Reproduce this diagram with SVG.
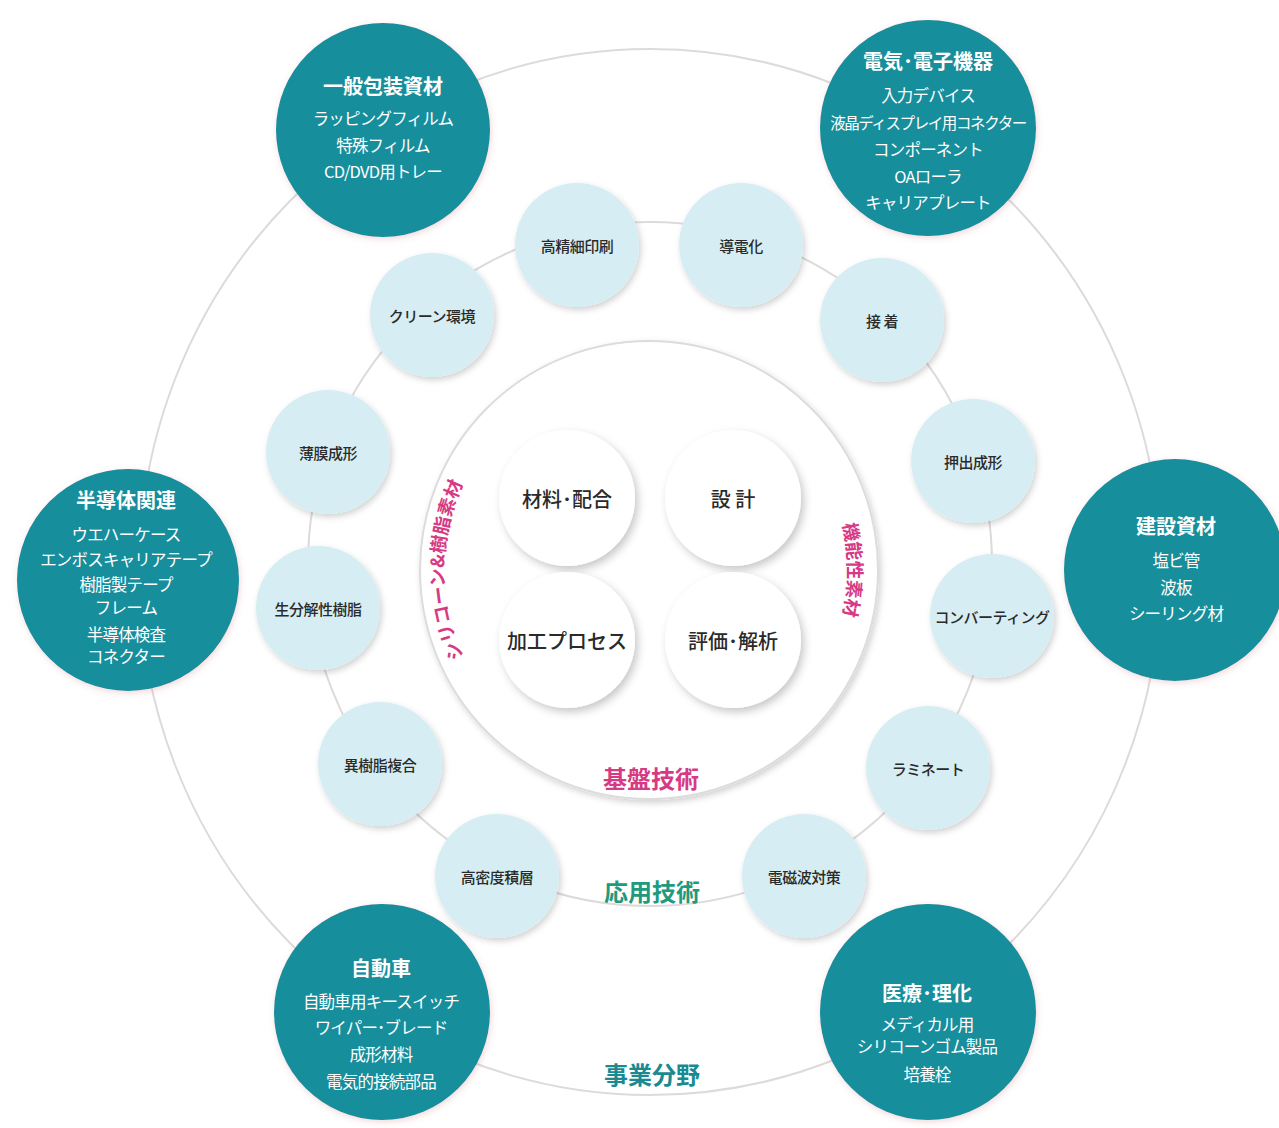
<svg xmlns="http://www.w3.org/2000/svg" width="1279" height="1128" viewBox="0 0 1279 1128">
<defs>
<style>
text{font-family:"Noto Sans CJK JP","Noto Sans",sans-serif;text-anchor:middle;dominant-baseline:central}
.ring{fill:none;stroke:#dedada;stroke-width:2}
.dark{fill:#128e9c}
.light{fill:#d6eef3}
.white{fill:#ffffff}
.dt{fill:#ffffff;font-weight:700;font-size:20px}
.di{fill:#ffffff;font-size:16.5px;letter-spacing:-0.8px}
.tight{font-size:15.5px;letter-spacing:-1.4px}
.lt{fill:#2a2a2a;font-size:15px;font-weight:500;letter-spacing:-0.5px}
.wt{fill:#2a2a2a;font-size:20px;font-weight:500}
.pink{fill:#d63a84;font-weight:700}
</style>
<filter id="sh" x="-20%" y="-20%" width="140%" height="140%"><feDropShadow dx="2" dy="3" stdDeviation="3" flood-color="#000" flood-opacity="0.18"/></filter>
<filter id="shd" x="-20%" y="-20%" width="140%" height="140%"><feDropShadow dx="1" dy="2" stdDeviation="3" flood-color="#c06070" flood-opacity="0.25"/></filter>
<filter id="shw" x="-20%" y="-20%" width="140%" height="140%"><feDropShadow dx="3" dy="4" stdDeviation="4" flood-color="#000" flood-opacity="0.22"/></filter>
<path id="arcL" d="M 471.5 672.5 A 205 205 0 0 1 471.5 467.5"/>
<path id="arcR" d="M 821.3 470.5 A 199 199 0 0 1 821.3 669.5"/>
</defs>
<rect width="1279" height="1128" fill="#ffffff"/>
<g id="connectors">
<ellipse class="ring" cx="650" cy="572" rx="511" ry="523"/>
<ellipse class="ring" cx="650" cy="564" rx="342" ry="342"/>
<circle cx="649" cy="570" r="229" fill="#ffffff" stroke="#dcdcdc" stroke-width="2" filter="url(#sh)"/>
</g>
<g id="label-kiban"><text x="651" y="777" class="pink" font-size="24">基盤技術</text></g>
<g id="label-ouyou"><text x="652" y="890" font-size="24" font-weight="700" fill="#1f9a7c">応用技術</text></g>
<g id="label-jigyou"><text x="652" y="1073" font-size="24" font-weight="700" fill="#1a8a92">事業分野</text></g>
<g id="label-silicone"><text class="pink" font-size="18.5" style="dominant-baseline:auto"><textPath href="#arcL" startOffset="50%">シリコーン&amp;樹脂素材</textPath></text></g>
<g id="label-kinou"><text class="pink" font-size="18.5" style="dominant-baseline:auto"><textPath href="#arcR" startOffset="50%">機能性素材</textPath></text></g>

<g id="n-zairyo"><circle class="white" cx="567" cy="498" r="68" filter="url(#shw)"/><text class="wt" x="567" y="498">材料･配合</text></g>
<g id="n-sekkei"><circle class="white" cx="733" cy="498" r="68" filter="url(#shw)"/><text class="wt" x="733" y="498">設 計</text></g>
<g id="n-kakou"><circle class="white" cx="567" cy="640" r="68" filter="url(#shw)"/><text class="wt" x="567" y="640">加工プロセス</text></g>
<g id="n-hyouka"><circle class="white" cx="733" cy="640" r="68" filter="url(#shw)"/><text class="wt" x="733" y="640">評価･解析</text></g>

<g id="n-kouseisai"><circle class="light" cx="577" cy="245" r="62" filter="url(#sh)"/><text class="lt" x="577" y="245">高精細印刷</text></g>
<g id="n-doudenka"><circle class="light" cx="741" cy="245" r="62" filter="url(#sh)"/><text class="lt" x="741" y="245">導電化</text></g>
<g id="n-secchaku"><circle class="light" cx="882" cy="320" r="62" filter="url(#sh)"/><text class="lt" x="882" y="320">接 着</text></g>
<g id="n-oshidashi"><circle class="light" cx="973" cy="461" r="62" filter="url(#sh)"/><text class="lt" x="973" y="461">押出成形</text></g>
<g id="n-converting"><circle class="light" cx="992" cy="616" r="62" filter="url(#sh)"/><text class="lt" x="992" y="616">コンバーティング</text></g>
<g id="n-laminate"><circle class="light" cx="928" cy="768" r="62" filter="url(#sh)"/><text class="lt" x="928" y="768">ラミネート</text></g>
<g id="n-denjiha"><circle class="light" cx="804" cy="876" r="62" filter="url(#sh)"/><text class="lt" x="804" y="876">電磁波対策</text></g>
<g id="n-koumitsudo"><circle class="light" cx="497" cy="876" r="62" filter="url(#sh)"/><text class="lt" x="497" y="876">高密度積層</text></g>
<g id="n-ijushi"><circle class="light" cx="380" cy="764" r="62" filter="url(#sh)"/><text class="lt" x="380" y="764">異樹脂複合</text></g>
<g id="n-seibunkai"><circle class="light" cx="318" cy="608" r="62" filter="url(#sh)"/><text class="lt" x="318" y="608">生分解性樹脂</text></g>
<g id="n-hakumaku"><circle class="light" cx="328" cy="452" r="62" filter="url(#sh)"/><text class="lt" x="328" y="452">薄膜成形</text></g>
<g id="n-clean"><circle class="light" cx="432" cy="315" r="62" filter="url(#sh)"/><text class="lt" x="432" y="315">クリーン環境</text></g>

<g id="n-housou"><circle class="dark" cx="383" cy="130" r="107" filter="url(#shd)"/>
<text class="dt" x="383" y="85">一般包装資材</text>
<text class="di" x="383" y="118">ラッピングフィルム</text>
<text class="di" x="383" y="145">特殊フィルム</text>
<text class="di" x="383" y="171">CD/DVD用トレー</text></g>
<g id="n-denki"><circle class="dark" cx="928" cy="128" r="108" filter="url(#shd)"/>
<text class="dt" x="928" y="60">電気･電子機器</text>
<text class="di" x="928" y="95">入力デバイス</text>
<text class="di tight" x="928" y="122">液晶ディスプレイ用コネクター</text>
<text class="di" x="928" y="149">コンポーネント</text>
<text class="di" x="928" y="176">OAローラ</text>
<text class="di" x="928" y="202">キャリアプレート</text></g>
<g id="n-handoutai"><circle class="dark" cx="128" cy="580" r="111" filter="url(#shd)"/>
<text class="dt" x="126" y="499">半導体関連</text>
<text class="di" x="126" y="534">ウエハーケース</text>
<text class="di" x="126" y="559">エンボスキャリアテープ</text>
<text class="di" x="126" y="584">樹脂製テープ</text>
<text class="di" x="126" y="607">フレーム</text>
<text class="di" x="126" y="634">半導体検査</text>
<text class="di" x="126" y="656">コネクター</text></g>
<g id="n-kensetsu"><circle class="dark" cx="1175" cy="570" r="111" filter="url(#shd)"/>
<text class="dt" x="1176" y="525">建設資材</text>
<text class="di" x="1176" y="560">塩ビ管</text>
<text class="di" x="1176" y="587">波板</text>
<text class="di" x="1176" y="613">シーリング材</text></g>
<g id="n-jidousha"><circle class="dark" cx="382" cy="1012" r="108" filter="url(#shd)"/>
<text class="dt" x="381" y="967">自動車</text>
<text class="di" x="381" y="1001">自動車用キースイッチ</text>
<text class="di" x="381" y="1027">ワイパー･ブレード</text>
<text class="di" x="381" y="1054">成形材料</text>
<text class="di" x="381" y="1081">電気的接続部品</text></g>
<g id="n-iryou"><circle class="dark" cx="928" cy="1012" r="108" filter="url(#shd)"/>
<text class="dt" x="927" y="992">医療･理化</text>
<text class="di" x="927" y="1024">メディカル用</text>
<text class="di" x="927" y="1046">シリコーンゴム製品</text>
<text class="di" x="927" y="1074">培養栓</text></g>
</svg>
